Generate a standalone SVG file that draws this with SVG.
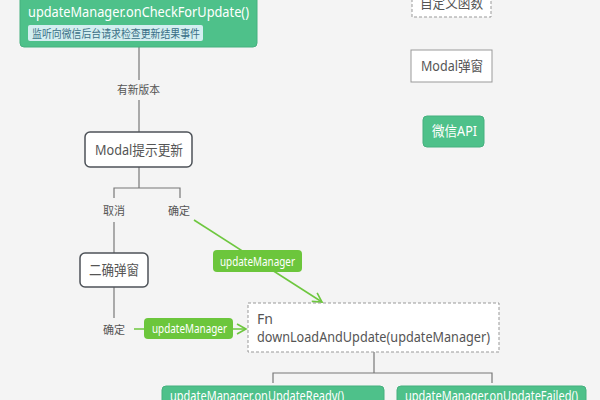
<svg xmlns="http://www.w3.org/2000/svg" width="600" height="400" viewBox="0 0 600 400">
<defs>
<style>
text{font-family:"Noto Sans","Noto Sans CJK SC",sans-serif;}
.api rect{fill:#4ec18a;stroke:#45b07e;stroke-width:1;}
.api text{fill:#ffffff;font-size:14px;}
.modal rect{fill:#ffffff;stroke:#4d5258;stroke-width:1.5;}
.modal text{fill:#555;font-size:14px;}
.fn rect{fill:#ffffff;stroke:#999;stroke-width:1;stroke-dasharray:3,2;}
.fn text{fill:#555;font-size:14px;}
.line{fill:none;stroke:#777;stroke-width:1.2;}
.gline{fill:none;stroke:#6ec73f;stroke-width:1.6;}
.lbl{fill:#555;font-size:11px;text-anchor:middle;}
.glbl rect{fill:#6cc63c;}
.glbl text{fill:#fff;font-size:12px;text-anchor:middle;}
</style>
<marker id="ga" markerWidth="12" markerHeight="12" refX="10" refY="6" orient="auto" markerUnits="userSpaceOnUse">
<path d="M1,1 L10,6 L1,11" fill="none" stroke="#6ec73f" stroke-width="1.6"/>
</marker>
</defs>
<rect width="600" height="400" fill="#f4f4f4"/>

<g id="connectors">
<path class="line" d="M139,47 V80 M139,100 V132"/>
<text class="lbl" x="138.5" y="94" textLength="43" lengthAdjust="spacingAndGlyphs">有新版本</text>
<path class="line" d="M139,167 V188 M114,198 V188 H180 V198"/>
<text class="lbl" x="114" y="215" textLength="22" lengthAdjust="spacingAndGlyphs">取消</text>
<text class="lbl" x="179" y="215" textLength="22" lengthAdjust="spacingAndGlyphs">确定</text>
<path class="line" d="M114,222 V253"/>
<path class="line" d="M114,287 V318"/>
<text class="lbl" x="114" y="334" textLength="22" lengthAdjust="spacingAndGlyphs">确定</text>
<path class="gline" d="M134,329 H246" marker-end="url(#ga)"/>
<g class="glbl"><rect x="144" y="318" width="89" height="21" rx="4"/><text x="189.5" y="333" textLength="75" lengthAdjust="spacingAndGlyphs">updateManager</text></g>
<path class="gline" d="M194,220 L322,302" marker-end="url(#ga)"/>
<g class="glbl"><rect x="213" y="250" width="89" height="22" rx="4"/><text x="257.5" y="265.5" textLength="75" lengthAdjust="spacingAndGlyphs">updateManager</text></g>
<path class="line" d="M374,352 V373 M273,383 V373 H492 V383"/>
</g>

<g id="n-check" class="api">
<rect x="20" y="-10" width="237" height="57" rx="4"/>
<text x="28" y="17" font-size="15" textLength="221" lengthAdjust="spacingAndGlyphs">updateManager.onCheckForUpdate()</text>
<rect x="28" y="25" width="175" height="16" rx="2" style="fill:#d3eef0;stroke:none"/>
<text x="32" y="37.5" style="fill:#3a6f86;font-size:11px" textLength="168" lengthAdjust="spacingAndGlyphs">监听向微信后台请求检查更新结果事件</text>
</g>

<g id="n-modal" class="modal">
<rect x="85" y="132" width="107" height="35" rx="5"/>
<text x="139" y="155" text-anchor="middle" textLength="88" lengthAdjust="spacingAndGlyphs">Modal提示更新</text>
</g>

<g id="n-confirm" class="modal">
<rect x="80" y="253" width="68" height="34" rx="5"/>
<text x="114" y="275" text-anchor="middle" textLength="50" lengthAdjust="spacingAndGlyphs">二确弹窗</text>
</g>

<g id="n-fn" class="fn">
<rect x="248" y="303" width="251" height="49"/>
<text x="257" y="324">Fn</text>
<text x="257" y="342" textLength="233" lengthAdjust="spacingAndGlyphs">downLoadAndUpdate(updateManager)</text>
</g>

<g id="n-ready" class="api">
<rect x="162" y="386" width="222" height="30" rx="4"/>
<text x="170" y="401" font-size="13" textLength="174" lengthAdjust="spacingAndGlyphs">updateManager.onUpdateReady()</text>
</g>

<g id="n-failed" class="api">
<rect x="397" y="386" width="189" height="30" rx="4"/>
<text x="405" y="401" font-size="13" textLength="173" lengthAdjust="spacingAndGlyphs">updateManager.onUpdateFailed()</text>
</g>

<g id="legend-fn" class="fn">
<rect x="412" y="-15" width="79" height="32"/>
<text x="451.5" y="8" text-anchor="middle" textLength="63" lengthAdjust="spacingAndGlyphs">自定义函数</text>
</g>

<g id="legend-modal" class="fn">
<rect x="411" y="50" width="81" height="32" style="stroke-dasharray:none"/>
<text x="452" y="71" text-anchor="middle" textLength="62" lengthAdjust="spacingAndGlyphs">Modal弹窗</text>
</g>

<g id="legend-api" class="api">
<rect x="423" y="116" width="61" height="31" rx="4"/>
<text x="454.5" y="136" text-anchor="middle" font-size="13" textLength="45" lengthAdjust="spacingAndGlyphs">微信API</text>
</g>
</svg>
